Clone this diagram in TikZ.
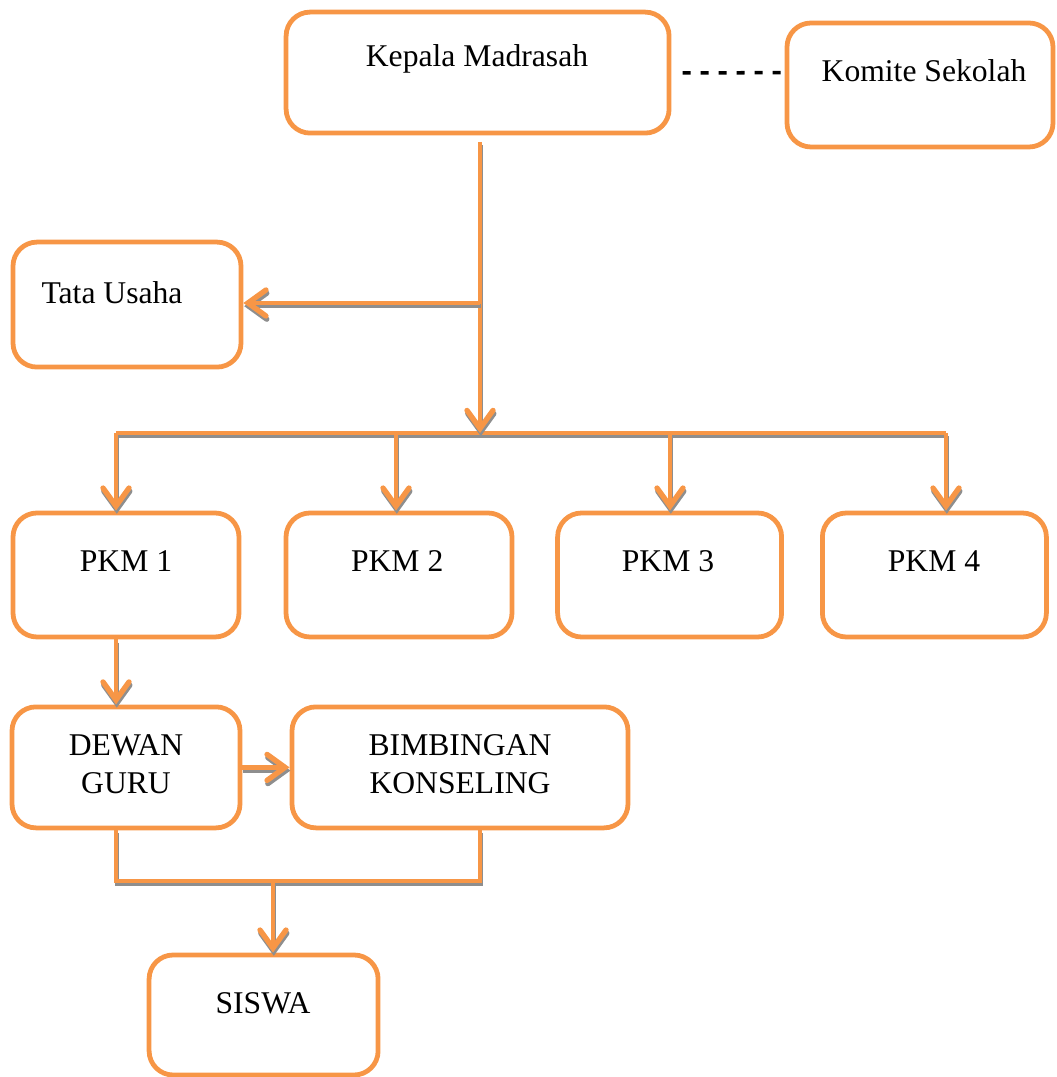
\documentclass[tikz,border=0pt]{standalone}
\usepackage{fontspec}
\setmainfont{Liberation Serif}
\usetikzlibrary{arrows.meta}
\definecolor{boxorange}{HTML}{F79646}
\definecolor{shadowgray}{HTML}{8E8E8E}
\begin{document}
\begin{tikzpicture}[
  unit/.style={draw=boxorange, line width=3.4pt, rounded corners=0.6cm, minimum width=#1, minimum height=3.05cm, inner sep=0pt},
  lbl/.style={font=\fontsize{22.5}{27}\selectfont, align=center, inner sep=0pt},
  link/.style={draw=boxorange, line width=3pt,
    preaction={draw=shadowgray, line width=3pt, transform canvas={shift={(0.02,-0.08)}}}},
  tip/.style={-{Straight Barb[length=0.45cm, width=0.65cm, line width=3.8pt, line cap=round]}},
]
\useasboundingbox (0,0) rectangle (26.4,26.925);
% boxes
\node[unit=9.575cm, minimum height=3.025cm] (kepala) at (11.94,25.11) {};
\node[unit=6.65cm, minimum height=3.1cm] (komite) at (23.0,24.8) {};
\node[unit=5.7cm, minimum height=3.125cm] (tata) at (3.175,19.31) {};
\node[unit=5.65cm, minimum height=3.1cm] (pkm1) at (3.15,12.55) {};
\node[unit=5.65cm, minimum height=3.1cm] (pkm2) at (9.975,12.55) {};
\node[unit=5.6cm, minimum height=3.1cm] (pkm3) at (16.74,12.55) {};
\node[unit=5.6cm, minimum height=3.1cm] (pkm4) at (23.36,12.55) {};
\node[unit=5.7cm, minimum height=3.025cm] (dewan) at (3.15,7.74) {};
\node[unit=8.4cm, minimum height=3.025cm] (bimbingan) at (11.5,7.74) {};
\node[unit=5.725cm, minimum height=3.0cm] (siswa) at (6.59,1.55) {};
% texts
\node[lbl] (kepalaT) at (11.925,25.45) {Kepala Madrasah};
\node[lbl] (komiteT) at (23.1,25.15) {Komite Sekolah};
\node[lbl] (tataT) at (2.8,19.62) {Tata Usaha};
\node[lbl] (pkm1T) at (3.15,12.9) {PKM 1};
\node[lbl] (pkm2T) at (9.93,12.9) {PKM 2};
\node[lbl] (pkm3T) at (16.7,12.9) {PKM 3};
\node[lbl] (pkm4T) at (23.35,12.9) {PKM 4};
\node[lbl] (dewanT) at (3.15,7.82) {DEWAN\\GURU};
\node[lbl] (bimbinganT) at (11.5,7.82) {BIMBINGAN\\KONSELING};
\node[lbl] (siswaT) at (6.575,1.85) {SISWA};
% junctions
\coordinate (trunk) at (12.0,23.375);
\coordinate (branch) at (12.0,19.35);
\coordinate (barmid) at (12.0,16.1);
\coordinate (bar1) at (2.9,16.1);
\coordinate (bar2) at (9.9,16.1);
\coordinate (bar3) at (16.75,16.1);
\coordinate (bar4) at (23.65,16.1);
\coordinate (joinL) at (2.9,4.9);
\coordinate (joinR) at (12.0,4.9);
\coordinate (joinM) at (6.825,4.9);
% connectors
\draw[black, line width=2.5pt, dash pattern=on 0.2cm off 0.25cm] ([xshift=0.28cm,yshift=-0.01cm]kepala.east) -- ([xshift=-0.05cm]komite.west |- kepala.east);
\draw[link] (bar1) -- (bar4);
\draw[link, tip] (trunk) -- (barmid);
\draw[link, tip] (branch) -- (tata.east |- branch);
\draw[link, tip] (bar1) -- (bar1 |- pkm1.north);
\draw[link, tip] (bar2) -- (bar2 |- pkm2.north);
\draw[link, tip] (bar3) -- (bar3 |- pkm3.north);
\draw[link, tip] (bar4) -- (bar4 |- pkm4.north);
\draw[link, tip] (pkm1.south -| joinL) -- (dewan.north -| joinL);
\draw[link, tip] (dewan.east) -- (bimbingan.west);
\draw[link] (dewan.south -| joinL) -- (joinL) -- (joinR) -- (bimbingan.south -| joinR);
\draw[link, tip] (joinM) -- (siswa.north -| joinM);
\end{tikzpicture}
\end{document}
